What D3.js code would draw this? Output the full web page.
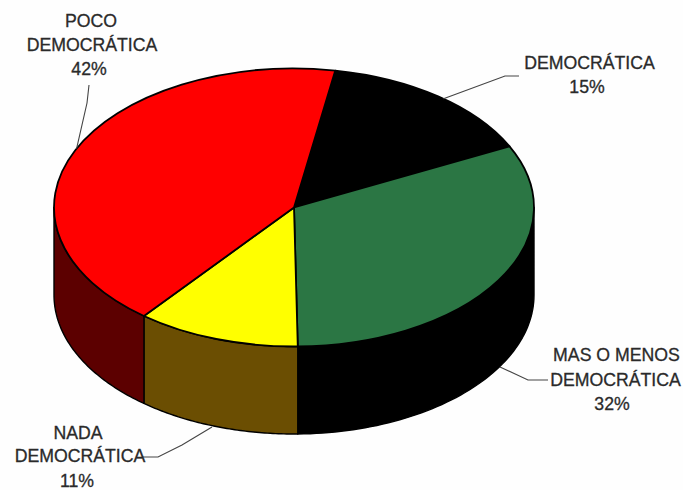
<!DOCTYPE html>
<html><head><meta charset="utf-8">
<script src="https://cdn.jsdelivr.net/npm/d3@7"></script>
<style>html,body{margin:0;padding:0;background:#fefefe}svg{display:block}
text{font-family:"Liberation Sans",Arial,sans-serif;font-size:17.7px;fill:#2a2a2a;stroke:#2a2a2a;stroke-width:.3px;text-anchor:middle}</style>
</head><body><svg id="c" width="683" height="490"></svg>
<script>
const categories=["DEMOCRÁTICA","MAS O MENOS DEMOCRÁTICA","NADA DEMOCRÁTICA","POCO DEMOCRÁTICA"];
const values=[15,32,11,42];
const topColors=["#000000","#2b7644","#ffff00","#ff0000"];
const sideColors=["#000000","#000000","#6b4e02","#5c0000"];
const labelLines=[["DEMOCRÁTICA","15%"],["MAS O MENOS","DEMOCRÁTICA","32%"],["NADA","DEMOCRÁTICA","11%"],["POCO","DEMOCRÁTICA","42%"]];

const svg=d3.select("#c");
const cx=294,cy=207.5,rx=240,ry=139,depth=87.5;
const tau=2*Math.PI,start=9.9/360*tau;
const arcs=d3.pie().sort(null).value(d=>d).startAngle(start).endAngle(start+tau)(values);
const px=d3.scaleLinear().domain([-1,1]).range([cx-rx,cx+rx]);
const py=d3.scaleLinear().domain([-1,1]).range([cy-ry,cy+ry]);
const pt=(a,dz=0)=>[px(Math.sin(a)),py(-Math.cos(a))+dz];
const line=d3.line();

// side walls: only the front half of the ellipse is visible
const g=svg.append("g");
arcs.forEach((d,i)=>{
  let a0=d.startAngle,a1=d.endAngle;
  const segs=[];
  [[Math.PI/2,3*Math.PI/2],[Math.PI/2+tau,3*Math.PI/2+tau]].forEach(([lo,hi])=>{
    const s=Math.max(a0,lo),e=Math.min(a1,hi);
    if(e>s)segs.push([s,e]);
  });
  segs.forEach(([s,e])=>{
    const as=d3.range(0,61).map(k=>s+(e-s)*k/60);
    const poly=as.map(a=>pt(a)).concat(as.slice().reverse().map(a=>pt(a,depth)));
    g.append("path").attr("d",line(poly)+"Z").attr("fill",sideColors[i])
      .attr("stroke","#000").attr("stroke-width",1.4).attr("stroke-linejoin","round");
  });
});

// top face
const arc=d3.arc().innerRadius(0).outerRadius(rx);
svg.append("g").attr("transform",`translate(${cx},${cy}) scale(1,${ry/rx})`)
  .selectAll("path").data(arcs).join("path")
  .attr("d",arc).attr("fill",(d,i)=>topColors[i])
  .attr("stroke","#000").attr("stroke-width",1.8).attr("vector-effect","non-scaling-stroke")
  .attr("stroke-linejoin","round");

// leader lines: start on the pie rim at a given share through each slice
const lead=(pts)=>svg.append("path").attr("d",line(pts)).attr("fill","none")
  .attr("stroke","#444").attr("stroke-width",1.1);
const at=(i,f)=>arcs[i].startAngle+(arcs[i].endAngle-arcs[i].startAngle)*f;
lead([pt(at(0,0.53)),[505,76],[519,76]]);
lead([[500,367],[528,380],[548,380]]);
lead([[212,427],[182,445],[158,457],[143,457]]);
lead([pt(at(3,0.505)),[87,103],[89,85]]);

// labels
const labelPos=[[[589.5,69],[587,93]],[[616.5,361],[615.5,386],[612,410]],[[78,439],[80,462],[77,487]],[[91,27],[92,51],[89,75]]];
labelLines.forEach((ls,i)=>ls.forEach((t,j)=>{
  svg.append("text").attr("x",labelPos[i][j][0]).attr("y",labelPos[i][j][1]).text(t);
}));
</script></body></html>
